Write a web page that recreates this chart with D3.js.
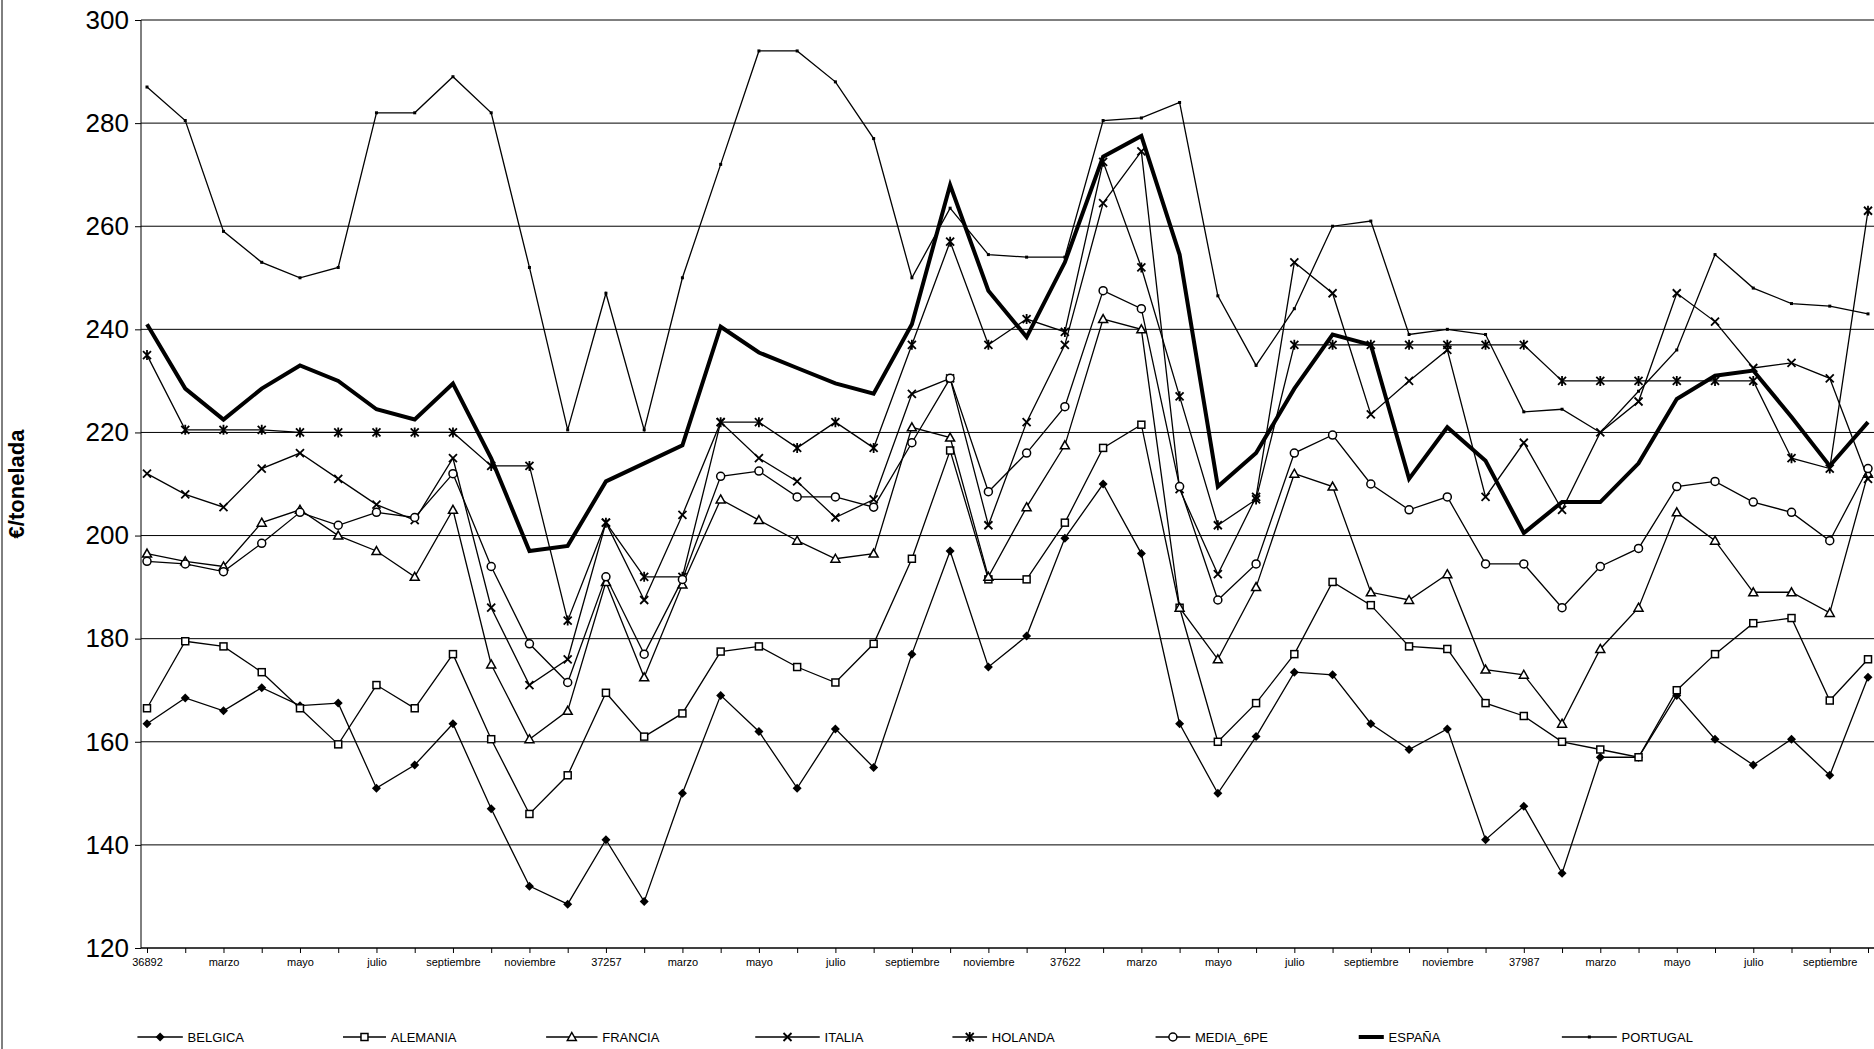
<!DOCTYPE html><html><head><meta charset="utf-8"><script src="https://d3js.org/d3.v7.min.js"></script>
<style>body{margin:0;background:#fff}</style></head><body><svg id="c" width="1874" height="1049"></svg><script>
const months=["36892","febrero","marzo","abril","mayo","junio","julio","agosto","septiembre","octubre","noviembre","diciembre"];
const categories=[];for(let y=0;y<4;y++)for(let m=0;m<12;m++){let l=months[m];if(m==0)l=["36892","37257","37622","37987"][y];categories.push(l);}
categories.length=46;
const yTicks=[120,140,160,180,200,220,240,260,280,300];
const BELGICA=[163.5,168.5,166,170.5,167,167.5,151,155.5,163.5,147,132,128.5,141,129,150,169,162,151,162.5,155,177,197,174.5,180.5,199.5,210,196.5,163.5,150,161,173.5,173,163.5,158.5,162.5,141,147.5,134.5,157,157,169,160.5,155.5,160.5,153.5,172.5];
const ALEMANIA=[166.5,179.5,178.5,173.5,166.5,159.5,171,166.5,177,160.5,146,153.5,169.5,161,165.5,177.5,178.5,174.5,171.5,179,195.5,216.5,191.5,191.5,202.5,217,221.5,186,160,167.5,177,191,186.5,178.5,178,167.5,165,160,158.5,157,170,177,183,184,168,176];
const FRANCIA=[196.5,195,194,202.5,205,200,197,192,205,175,160.5,166,191,172.5,190.5,207,203,199,195.5,196.5,221,219,192,205.5,217.5,242,240,186,176,190,212,209.5,189,187.5,192.5,174,173,163.5,178,186,204.5,199,189,189,185,212];
const ITALIA=[212,208,205.5,213,216,211,206,203,215,186,171,176,202.5,187.5,204,222,215,210.5,203.5,207,227.5,230.5,202,222,237,264.5,274.5,209,192.5,207.5,253,247,223.5,230,236,207.5,218,205,220,226,247,241.5,232.5,233.5,230.5,211];
const HOLANDA=[235,220.5,220.5,220.5,220,220,220,220,220,213.5,213.5,183.5,202.5,192,192,222,222,217,222,217,237,257,237,242,239.5,272.5,252,227,202,207,237,237,237,237,237,237,237,230,230,230,230,230,230,215,213,263];
const MEDIA_6PE=[195,194.5,193,198.5,204.5,202,204.5,203.5,212,194,179,171.5,192,177,191.5,211.5,212.5,207.5,207.5,205.5,218,230.5,208.5,216,225,247.5,244,209.5,187.5,194.5,216,219.5,210,205,207.5,194.5,194.5,186,194,197.5,209.5,210.5,206.5,204.5,199,213];
const ESPANA=[241,228.5,222.5,228.5,233,230,224.5,222.5,229.5,215,197,198,210.5,214,217.5,240.5,235.5,232.5,229.5,227.5,241,268,247.5,238.5,253,273.5,277.5,254.5,209.5,216,228.5,239,237,211,221,214.5,200.5,206.5,206.5,214,226.5,231,232,223,213.5,222];
const PORTUGAL=[287,280.5,259,253,250,252,282,282,289,282,252,220.5,247,220.5,250,272,294,294,288,277,250,263.5,254.5,254,254,280.5,281,284,246.5,233,244,260,261,239,240,239,224,224.5,220,228,236,254.5,248,245,244.5,243];
const series=[["BELGICA",BELGICA,"diamond",1.3],["ALEMANIA",ALEMANIA,"square",1.3],["FRANCIA",FRANCIA,"triangle",1.3],["ITALIA",ITALIA,"x",1.3],["HOLANDA",HOLANDA,"star",1.3],["MEDIA_6PE",MEDIA_6PE,"circle",1.3],["ESPAÑA",ESPANA,"none",4],["PORTUGAL",PORTUGAL,"dot",1.3]];
const svg=d3.select("#c");
const L=141,R=1874,T=20,B=948;
const x=d3.scaleLinear().domain([0,45]).range([147,1868]);
const y=d3.scaleLinear().domain([120,300]).range([B,T]);
svg.append("line").attr("x1",2).attr("x2",2).attr("y1",0).attr("y2",1049).attr("stroke","#000");
yTicks.forEach(t=>{svg.append("line").attr("x1",L).attr("x2",R).attr("y1",y(t)).attr("y2",y(t)).attr("stroke","#000").attr("stroke-width",1);});
svg.append("line").attr("x1",L).attr("x2",L).attr("y1",T).attr("y2",B).attr("stroke","#000");
const ya=svg.append("g").attr("transform",`translate(${L},0)`).call(d3.axisLeft(y).tickValues(yTicks).tickSize(6).tickPadding(6));
ya.select(".domain").remove();ya.selectAll("text").attr("font-family","Liberation Sans,Arial").attr("font-size",26).attr("fill","#000");
const xa=svg.append("g").attr("transform",`translate(0,${B})`).call(d3.axisBottom(x).tickValues(d3.range(0,46)).tickSize(5).tickFormat(i=>i%2==0?categories[i]:""));
xa.select(".domain").attr("d",`M${L},0H${R}`);
xa.selectAll("text").attr("font-family","Liberation Sans,Arial").attr("font-size",11).attr("fill","#000").attr("dy","0.9em");
svg.append("text").attr("transform","translate(24,484) rotate(-90)").attr("text-anchor","middle").attr("font-family","Liberation Sans,Arial").attr("font-weight","bold").attr("font-size",22).text("€/tonelada");
function marker(g,type,cx,cy){
 const s=4.5;
 if(type=="diamond")g.append("path").attr("d",`M${cx},${cy-s}L${cx+s},${cy}L${cx},${cy+s}L${cx-s},${cy}Z`).attr("fill","#000");
 else if(type=="square")g.append("rect").attr("x",cx-3.5).attr("y",cy-3.5).attr("width",7).attr("height",7).attr("fill","#fff").attr("stroke","#000").attr("stroke-width",1.5);
 else if(type=="triangle")g.append("path").attr("d",`M${cx},${cy-4.5}L${cx+4.5},${cy+3.5}L${cx-4.5},${cy+3.5}Z`).attr("fill","#fff").attr("stroke","#000").attr("stroke-width",1.5);
 else if(type=="x")g.append("path").attr("d",`M${cx-4},${cy-4}L${cx+4},${cy+4}M${cx-4},${cy+4}L${cx+4},${cy-4}`).attr("stroke","#000").attr("stroke-width",1.8);
 else if(type=="star")g.append("path").attr("d",`M${cx-4},${cy-4}L${cx+4},${cy+4}M${cx-4},${cy+4}L${cx+4},${cy-4}M${cx},${cy-5}V${cy+5}`).attr("stroke","#000").attr("stroke-width",1.8);
 else if(type=="circle")g.append("circle").attr("cx",cx).attr("cy",cy).attr("r",4).attr("fill","#fff").attr("stroke","#000").attr("stroke-width",1.5);
 else if(type=="dot")g.append("rect").attr("x",cx-1.5).attr("y",cy-1.5).attr("width",3).attr("height",3).attr("fill","#000");
}
const line=d3.line().x((d,i)=>x(i)).y(d=>y(d));
series.forEach(([n,v,m,w])=>{
 const g=svg.append("g");
 g.append("path").attr("d",line(v)).attr("fill","none").attr("stroke","#000").attr("stroke-width",w);
 v.forEach((d,i)=>marker(g,m,x(i),y(d)));
});
const lx=[115,287,457,632,797,967,1137,1307],tx=[157,327,504,690,830,1000,1162,1357];
series.forEach(([n,v,m,w],k)=>{
 const a=lx[k]*1.195,b=(tx[k]-4)*1.195,ly=1037;
 const g=svg.append("g");
 g.append("line").attr("x1",a).attr("x2",b).attr("y1",ly).attr("y2",ly).attr("stroke","#000").attr("stroke-width",w);
 marker(g,m,(a+b)/2,ly);
 g.append("text").attr("x",tx[k]*1.195).attr("y",ly+5).attr("font-family","Liberation Sans,Arial").attr("font-size",13).text(n);
});
</script></body></html>
